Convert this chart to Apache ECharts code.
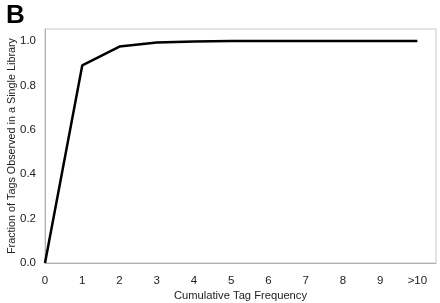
<!DOCTYPE html>
<html><head><meta charset="utf-8">
<script src="https://cdn.jsdelivr.net/npm/echarts@6/dist/echarts.min.js"></script>
<style>html,body{margin:0;padding:0;background:#fff}#c{width:440px;height:303px}</style>
</head><body><div id="c"></div>
<script>
const xValues = [0,1,2,3,4,5,6,7,8,9,10];
const xTickLabels = ['0','1','2','3','4','5','6','7','8','9','>10'];
const fractionObserved = [0.0, 0.89, 0.975, 0.993, 0.998, 1.0, 1.0, 1.0, 1.0, 1.0, 1.0];

const chart = echarts.init(document.getElementById('c'));
const font = 'Liberation Sans, Arial, sans-serif';
chart.setOption({
  animation: false,
  title: {text: 'B', left: 1, top: -2, textStyle: {fontFamily: font, fontSize: 26, fontWeight: 'bold', color: '#000'}},
  grid: {left: 45, right: 4, top: 29, bottom: 40, show: true, borderColor: '#c8c8c8', borderWidth: 1,
    outerBoundsMode: 'none', containLabel: false},
  xAxis: {
    type: 'value', min: 0, max: 10.5, interval: 1,
    name: 'Cumulative Tag Frequency', nameLocation: 'middle', nameGap: 27, nameMoveOverlap: false,
    nameTextStyle: {fontFamily: font, fontSize: 11.2, color: '#222'},
    axisLine: {show: true, lineStyle: {color: '#b0b0b0'}},
    axisTick: {show: false}, splitLine: {show: false},
    axisLabel: {showMaxLabel: false, fontFamily: font, fontSize: 11.5, color: '#222', margin: 12,
      formatter: v => { const i = xValues.indexOf(v); return i >= 0 ? xTickLabels[i] : ''; }}
  },
  yAxis: {
    type: 'value', min: 0, max: 1.054, interval: 0.2,
    name: 'Fraction of Tags Observed in a Single Library', nameLocation: 'middle', nameGap: 27, nameMoveOverlap: false,
    nameTextStyle: {fontFamily: font, fontSize: 10.8, color: '#222'},
    axisLine: {show: true, lineStyle: {color: '#b0b0b0'}},
    axisTick: {show: false}, splitLine: {show: false},
    axisLabel: {showMaxLabel: false, fontFamily: font, fontSize: 11.5, color: '#222', margin: 9,
      formatter: v => v.toFixed(1)}
  },
  series: [{
    type: 'line', data: xValues.map((x, i) => [x, fractionObserved[i]]),
    showSymbol: false, lineStyle: {color: '#000', width: 2.5}
  }]
});
</script></body></html>
